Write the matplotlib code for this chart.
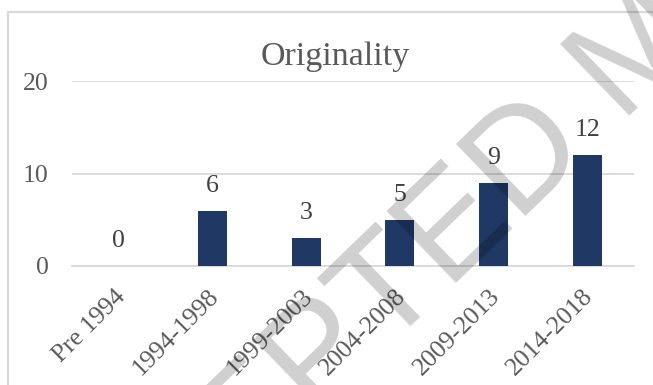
import matplotlib
matplotlib.use("Agg")
import matplotlib.pyplot as plt
from matplotlib.patches import Rectangle
import matplotlib.transforms as mtransforms

# Data
categories = ["Pre 1994", "1994-1998", "1999-2003", "2004-2008", "2009-2013", "2014-2018"]
counts = [0, 6, 3, 5, 9, 12]
y_ticks = [0, 10, 20]
title = "Originality"
watermark = "ACCEPTED MANUSCRIPT"

W, H, DPI = 653, 385, 100
BAR = "#1F3864"
GRID = "#D9D9D9"
TEXT = "#595959"
SERIF = "Liberation Serif"

fig = plt.figure(figsize=(W / DPI, H / DPI), dpi=DPI)
fig.patch.set_facecolor("white")

def fx(px):
    return px / W

def fy(py):
    return 1 - py / H

# plot area (pixel bounds)
left, right, top, bottom = 72, 634, 81, 266
ax = fig.add_axes([fx(left), fy(bottom), fx(right) - fx(left), fy(top) - fy(bottom)])
ax.set_xlim(-0.5, len(categories) - 0.5)
ax.set_ylim(0, 20)

x = list(range(len(categories)))
ax.bar(x, counts, width=0.31, color=BAR, zorder=3)

for xi, v in zip(x, counts):
    ax.annotate(str(v), (xi, v), xytext=(0, 10), textcoords="offset points",
                ha="center", va="bottom", fontsize=18.5, family=SERIF,
                color="#404040", zorder=4)

ax.set_yticks(y_ticks)
ax.set_yticklabels([str(t) for t in y_ticks], fontsize=18.5, family=SERIF, color=TEXT)
ax.grid(axis="y", color=GRID, linewidth=1.3, zorder=0)
ax.set_axisbelow(True)
ax.tick_params(axis="y", length=0, pad=17)
ax.tick_params(axis="x", length=0, pad=14)

ax.set_xticks(x)
ax.set_xticklabels(categories, rotation=45, ha="right", rotation_mode="anchor",
                   fontsize=18.5, family=SERIF, color=TEXT)
shift = mtransforms.ScaledTranslation(-5 / DPI, 0, fig.dpi_scale_trans)
for lab in ax.get_xticklabels():
    lab.set_transform(lab.get_transform() + shift)

for s in ["top", "right", "left"]:
    ax.spines[s].set_visible(False)
ax.spines["bottom"].set_color(GRID)
ax.spines["bottom"].set_linewidth(1.3)
ax.set_facecolor("none")

# chart title
fig.text(fx(335), fy(65), title, ha="center", va="baseline",
         fontsize=24.5, family=SERIF, color=TEXT)

# chart-area border
fig.patches.append(Rectangle((fx(7.5), fy(420)), 1.2, fy(12) - fy(420),
                             transform=fig.transFigure, fill=False,
                             edgecolor=GRID, linewidth=1.6, zorder=1))

# diagonal watermark
fig.text(fx(26), fy(698), watermark, rotation=44, rotation_mode="anchor",
         ha="left", va="baseline", fontsize=104, family="Liberation Sans",
         color=(0, 0, 0, 0.19), zorder=10)

fig.savefig("out.png", dpi=DPI)
